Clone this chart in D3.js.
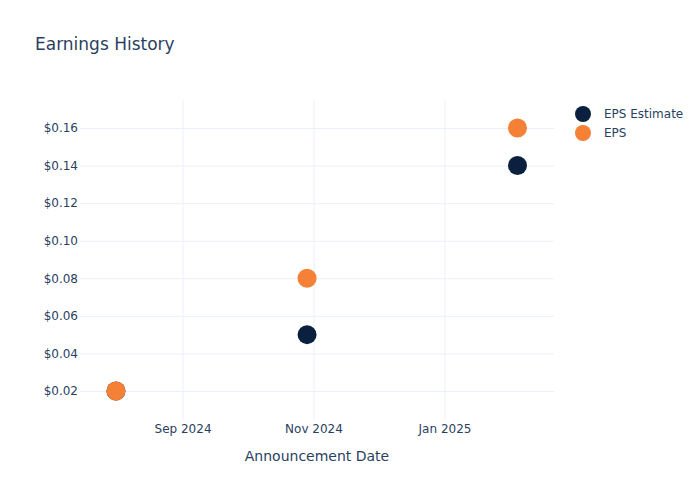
<!DOCTYPE html>
<html><head><meta charset="utf-8">
<script src="https://cdn.jsdelivr.net/npm/d3@7"></script>
<style>body{margin:0;background:#fff;} text{font-family:"DejaVu Sans",Verdana,sans-serif;}</style>
</head><body>
<svg id="chart" width="700" height="500"></svg>
<script>
const dates = ["2024-08-01", "2024-10-29", "2025-02-04"];
const epsEstimate = [0.02, 0.05, 0.14];
const eps = [0.02, 0.08, 0.16];
const yTicks = [0.02, 0.04, 0.06, 0.08, 0.10, 0.12, 0.14, 0.16];
const xTicks = ["2024-09-01", "2024-11-01", "2025-01-01"];
const seriesNames = ["EPS Estimate", "EPS"];
const colors = ["#0b1f3f", "#f58137"];

const parse = d3.utcParse("%Y-%m-%d");
const svg = d3.select("#chart");
const m = {l: 80, r: 554, t: 100, b: 420};
const x = d3.scaleUtc().domain([new Date(Date.UTC(2024, 6, 15, 6)), new Date(Date.UTC(2025, 1, 21, 0))]).range([m.l, m.r]);
const y = d3.scaleLinear().domain([0.00456, 0.1749]).range([m.b, m.t]);
const textColor = "#2a3f5f";
const grid = "#ebf0f8";

svg.append("rect").attr("width", 700).attr("height", 500).attr("fill", "#fff");

// y grid + labels
const yAxis = d3.axisLeft(y).tickValues(yTicks).tickSize(-(m.r - m.l)).tickPadding(6)
  .tickFormat(d => "$" + d.toFixed(2));
const gy = svg.append("g").attr("transform", `translate(${m.l},0)`).call(yAxis);
gy.select(".domain").remove();
gy.selectAll("line").attr("stroke", grid).attr("stroke-width", 1);
gy.selectAll("text").attr("fill", textColor).attr("font-size", 12).attr("x", -2);

// x grid + labels
const xAxis = d3.axisBottom(x).tickValues(xTicks.map(parse)).tickSize(-(m.b - m.t)).tickPadding(4)
  .tickFormat(d3.utcFormat("%b %Y"));
const gx = svg.append("g").attr("transform", `translate(0,${m.b})`).call(xAxis);
gx.select(".domain").remove();
gx.selectAll("line").attr("stroke", grid).attr("stroke-width", 1);
gx.selectAll("text").attr("fill", textColor).attr("font-size", 12);

// series
[epsEstimate, eps].forEach((vals, i) => {
  svg.append("g").selectAll("circle").data(vals).join("circle")
    .attr("cx", (d, j) => x(parse(dates[j])))
    .attr("cy", d => y(d))
    .attr("r", 9.5)
    .attr("fill", colors[i]);
});

// title
svg.append("text").attr("x", 35).attr("y", 50).attr("font-size", 17).attr("fill", textColor).text("Earnings History");
// x axis title
svg.append("text").attr("x", (m.l + m.r) / 2).attr("y", 461).attr("text-anchor", "middle")
  .attr("font-size", 14).attr("fill", textColor).text("Announcement Date");

// legend
const lg = svg.append("g");
seriesNames.forEach((n, i) => {
  lg.append("circle").attr("cx", 583).attr("cy", 114 + i * 19).attr("r", 8).attr("fill", colors[i]);
  lg.append("text").attr("x", 604).attr("y", 114 + i * 19).attr("dy", "0.35em").attr("font-size", 12)
    .attr("fill", textColor).text(n);
});
</script>
</body></html>
